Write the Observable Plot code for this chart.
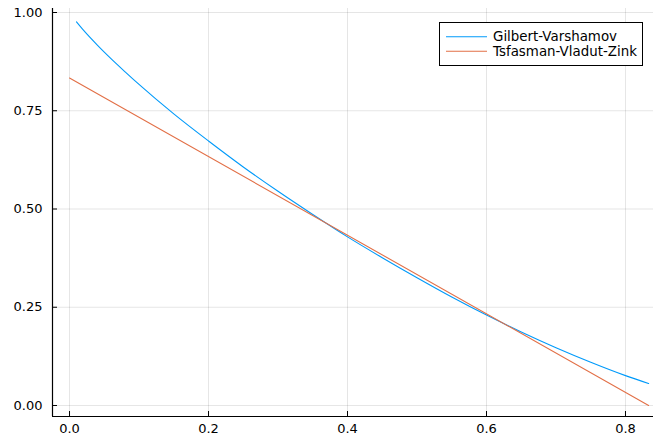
<!DOCTYPE html>
<html>
<head>
<meta charset="utf-8">
<script src="https://cdn.jsdelivr.net/npm/d3@7"></script>
<script src="https://cdn.jsdelivr.net/npm/@observablehq/plot@0.6"></script>
<style>
  html, body { margin: 0; padding: 0; background: white; }
  #wrap { position: relative; width: 653px; height: 438px; font-family: "DejaVu Sans", sans-serif; }
  #legend { position: absolute; left: 439px; top: 22px; width: 204px; height: 44px; box-sizing: border-box;
            border: 1px solid #000; background: #fff; color: #000; }
  #legend svg { position: absolute; left: -1px; top: -1px; }
</style>
</head>
<body>
<div id="wrap"><div id="legend"></div></div>
<script>
// Relative distance delta and rate bounds
const gvDelta = [0.01, 0.02, 0.04, 0.06, 0.08, 0.10, 0.15, 0.20, 0.25, 0.30, 0.35, 0.40, 0.45, 0.50, 0.55, 0.60, 0.65, 0.70, 0.75, 0.80, 0.8333];
const gvRate  = [0.976, 0.955, 0.917, 0.882, 0.849, 0.817, 0.742, 0.673, 0.607, 0.545, 0.486, 0.429, 0.376, 0.325, 0.276, 0.230, 0.187, 0.147, 0.110, 0.076, 0.056];
const tvzDelta = [0.0, 0.8333];
const tvzRate  = [0.8333, 0.0];
const seriesNames = ["Gilbert-Varshamov", "Tsfasman-Vladut-Zink"];
const seriesColors = ["#009AFA", "#E26F46"];
const xTicks = [0.0, 0.2, 0.4, 0.6, 0.8];
const yTicks = [0.00, 0.25, 0.50, 0.75, 1.00];
const xDomain = [-0.0245, 0.8403];
const yDomain = [-0.028, 1.0102];

const gv = gvDelta.map((d, i) => ({x: d, y: gvRate[i]}));
const tvz = tvzDelta.map((d, i) => ({x: d, y: tvzRate[i]}));

const chart = Plot.plot({
  width: 653,
  height: 438,
  marginLeft: 52,
  marginRight: 0,
  marginTop: 8,
  marginBottom: 22,
  x: {domain: xDomain},
  y: {domain: yDomain},
  style: {fontFamily: "DejaVu Sans", fontSize: "13px", color: "#000", background: "white", overflow: "visible"},
  marks: [
    Plot.gridX(xTicks, {stroke: "#000", strokeOpacity: 0.1, strokeWidth: 1}),
    Plot.gridY(yTicks, {stroke: "#000", strokeOpacity: 0.1, strokeWidth: 1}),
    Plot.axisX(xTicks, {tickFormat: d3.format(".1f"), tickSize: -5, tickPadding: 12, label: null, fill: "#000", stroke: "#000"}),
    Plot.axisY(yTicks, {tickFormat: d3.format(".2f"), tickSize: -5, tickPadding: 15, label: null, fill: "#000", stroke: "#000"}),
    Plot.ruleX([xDomain[0]], {stroke: "#000", strokeWidth: 1.2}),
    Plot.ruleY([yDomain[0]], {stroke: "#000", strokeWidth: 1.2}),
    Plot.line(gv, {x: "x", y: "y", stroke: seriesColors[0], strokeWidth: 1.1, curve: "monotone-x"}),
    Plot.line(tvz, {x: "x", y: "y", stroke: seriesColors[1], strokeWidth: 1.1})
  ]
});
document.getElementById("wrap").prepend(chart);

// Legend
const legend = d3.select("#legend");
const svg = legend.append("svg").attr("width", 204).attr("height", 44);
seriesNames.forEach((name, i) => {
  const cy = 14.7 + i * 14.6;
  svg.append("line").attr("x1", 7).attr("x2", 48).attr("y1", cy).attr("y2", cy)
     .attr("stroke", seriesColors[i]).attr("stroke-width", 1.1);
  svg.append("text").attr("x", 54).attr("y", cy).attr("dy", "0.35em")
     .attr("font-family", "DejaVu Sans").attr("font-size", 13.4).attr("fill", "#000").text(name);
});
</script>
</body>
</html>
